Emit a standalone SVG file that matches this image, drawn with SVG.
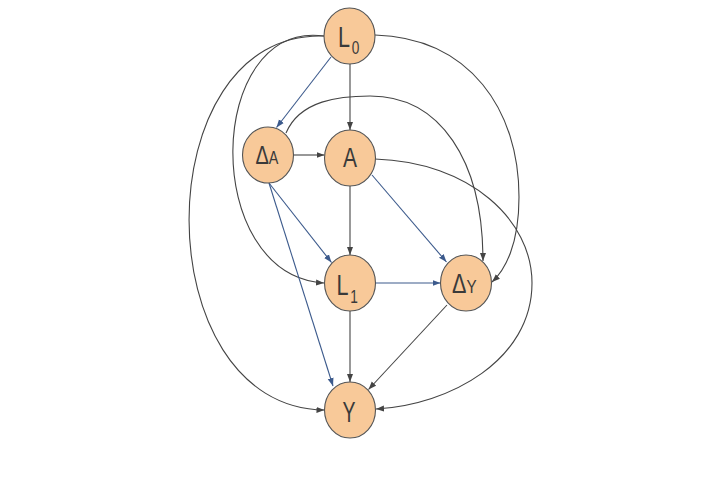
<svg xmlns="http://www.w3.org/2000/svg" width="717" height="478" viewBox="0 0 717 478">
<style>
.node ellipse{fill:#f8c999;stroke:#555;stroke-width:1.1}
.lbl{font-family:"Liberation Sans",Arial,sans-serif;fill:#3a3a3a}
.g{fill:none;stroke:#444;stroke-width:1.1;marker-end:url(#ag)}
.b{fill:none;stroke:#3c5a8c;stroke-width:1.1;marker-end:url(#ab)}
</style>
<defs>
<marker id="ag" markerUnits="userSpaceOnUse" markerWidth="9" markerHeight="8" refX="8" refY="3.5" orient="auto"><path d="M0,0.5 L8,3.5 L0,6.5 z" fill="#444"/></marker>
<marker id="ab" markerUnits="userSpaceOnUse" markerWidth="9" markerHeight="8" refX="8" refY="3.5" orient="auto"><path d="M0,0.5 L8,3.5 L0,6.5 z" fill="#3c5a8c"/></marker>
</defs>
<rect width="717" height="478" fill="#fff"/>
<g id="edges">
<path class="b" d="M331,57 L276.5,127.5"/>
<path class="g" d="M350,64 L350,130"/>
<path class="g" d="M324,36 C205,20 200,275 324,283"/>
<path class="g" d="M324,36 C144,30 144,408 324.5,410"/>
<path class="g" d="M375,35 C470,38 519,110 519,197 C519,245 505,270 492,282"/>
<path class="g" d="M293.5,155 L324.5,155"/>
<path class="g" d="M286,133 C300,100 340,96 370,96 C440,96 483,160 483,261"/>
<path class="b" d="M269,183 L331.5,262.5"/>
<path class="b" d="M269,183 L333,386"/>
<path class="g" d="M350,186 L350,255"/>
<path class="b" d="M372,175 L446.5,262"/>
<path class="g" d="M375,159 C470,162 532,220 532,283 C532,360 450,405 376,409"/>
<path class="b" d="M375.5,283 L440.5,283"/>
<path class="g" d="M350,311 L350,382"/>
<path class="g" d="M447,305 L368.5,389.5"/>
</g>
<g id="L0" class="node"><ellipse cx="349.5" cy="36" rx="25.5" ry="28"/>
<text class="lbl" transform="translate(338,47) scale(0.72,1)" font-size="30">L<tspan font-size="19" dx="2.5" dy="7">0</tspan></text></g>
<g id="DA" class="node"><ellipse cx="268" cy="155" rx="25.5" ry="28"/>
<text class="lbl" transform="translate(255.5,163.5) scale(0.8,1)" font-size="25">Δ<tspan font-size="18">A</tspan></text></g>
<g id="A" class="node"><ellipse cx="350" cy="158" rx="25.5" ry="28"/>
<text class="lbl" transform="translate(343,167) scale(0.75,1)" font-size="28">A</text></g>
<g id="L1" class="node"><ellipse cx="350" cy="283" rx="25.5" ry="28"/>
<text class="lbl" transform="translate(336.5,295) scale(0.72,1)" font-size="30">L<tspan font-size="19" dx="2.5" dy="8">1</tspan></text></g>
<g id="DY" class="node"><ellipse cx="466" cy="283" rx="25.5" ry="28"/>
<text class="lbl" transform="translate(452,293) scale(0.8,1)" font-size="27">Δ<tspan font-size="19">Y</tspan></text></g>
<g id="Y" class="node"><ellipse cx="350" cy="410" rx="25.5" ry="28"/>
<text class="lbl" transform="translate(342.5,422) scale(0.65,1)" font-size="30">Y</text></g>
</svg>
